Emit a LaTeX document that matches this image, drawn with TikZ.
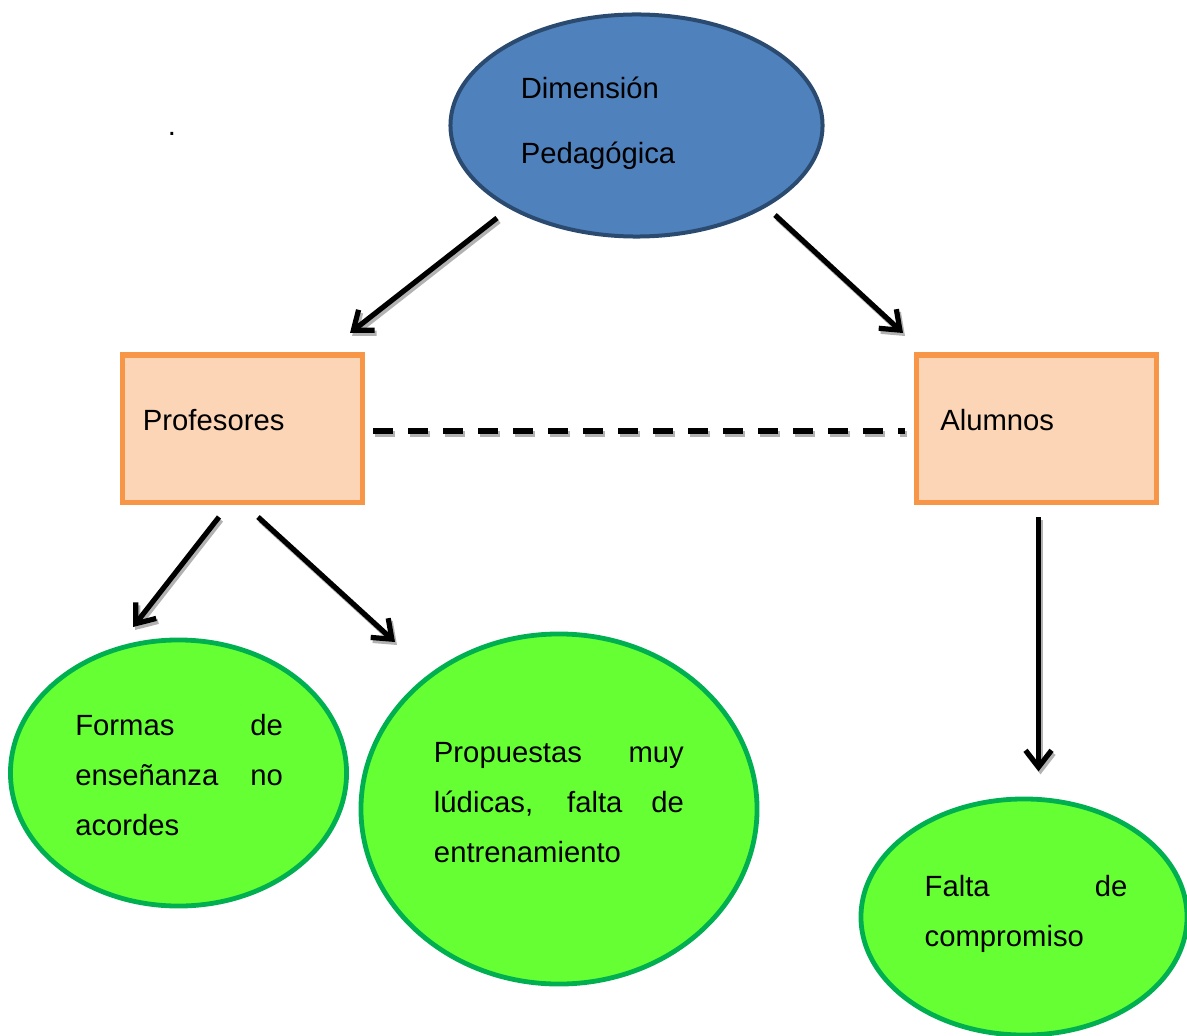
\documentclass[tikz,border=0pt]{standalone}
\usepackage{fontspec}
\setmainfont{Liberation Sans}
\usetikzlibrary{shapes.geometric,arrows.meta}

\definecolor{azulrelleno}{HTML}{4F81BD}
\definecolor{azulborde}{HTML}{2B4A70}
\definecolor{naranjarelleno}{HTML}{FBD5B5}
\definecolor{naranjaborde}{HTML}{F79646}
\definecolor{verderelleno}{HTML}{66FF33}
\definecolor{verdeborde}{HTML}{00B050}

\tikzset{
  texto/.style={inner sep=0pt,anchor=north west,align=left,font=\fontsize{20.8}{35.6}\selectfont},
  caja/.style={draw=naranjaborde,fill=naranjarelleno,line width=0.13cm,minimum width=6cm,minimum height=3.6875cm},
  elipseverde/.style={ellipse,draw=verdeborde,fill=verderelleno,line width=0.12cm,inner sep=0pt},
  flecha/.style={line width=0.13cm,-{Straight Barb[length=0.42cm,width=0.65cm]}},
  sombra/.style={draw=gray!60,transform canvas={shift={(2,3)}}},
  raya/.style={line width=0.15cm,dash pattern=on 0.5cm off 0.375cm}
}

\begin{document}
\begin{tikzpicture}[x=0.025cm,y=-0.025cm]
  \useasboundingbox (0,0) rectangle (1187,1036);
  % nodos
  \node[ellipse,draw=azulborde,fill=azulrelleno,line width=0.1cm,inner sep=0pt,
        minimum width=9.3cm,minimum height=5.55cm] (dim) at (636.5,125.5) {};
  \node[caja] (prof) at (242.5,428.75) {};
  \node[caja] (alum) at (1036.5,428.75) {};
  \node[elipseverde,minimum width=8.4cm,minimum height=6.65cm] (formas) at (178.5,773) {};
  \node[elipseverde,minimum width=9.9cm,minimum height=8.75cm] (prop) at (559,809) {};
  \node[elipseverde,minimum width=8.15cm,minimum height=5.9cm] (falta) at (1024,917) {};
  % textos
  \node[texto,font=\fontsize{20.8}{46.5}\selectfont] (dimtxt) at (520.5,76.2) {Dimensión\\Pedagógica};
  \node[texto] (proftxt) at (142.7,409.2) {Profesores};
  \node[texto] (alumtxt) at (940,409.2) {Alumnos};
  \node[texto] (formastxt) at (75,713.7) {\makebox[5.19cm][s]{Formas de}\\\makebox[5.19cm][s]{enseñanza no}\\acordes};
  \node[texto] (proptxt) at (433.7,742) {\makebox[6.245cm][s]{Propuestas muy}\\\makebox[6.245cm][s]{lúdicas, falta de}\\entrenamiento};
  \node[texto] (faltatxt) at (924.4,874.7) {\makebox[5.065cm][s]{Falta de}\\compromiso};
  \node[inner sep=0pt,anchor=base west,font=\fontsize{20.8}{35.6}\selectfont] (punto) at (167.5,135.5) {.};
  % extremos de las flechas
  \coordinate (d1) at (497,218);
  \coordinate (p1) at (350,333);
  \coordinate (d2) at (775,215);
  \coordinate (a1) at (903,333);
  \coordinate (p2) at (219,517);
  \coordinate (f1) at (133,627);
  \coordinate (p3) at (258,517);
  \coordinate (f2) at (395,642);
  % flechas con sombra
  \foreach \a/\b in {d1/p1,d2/a1,p2/f1,p3/f2} {
    \draw[flecha,sombra] (\a) -- (\b);
    \draw[flecha] (\a) -- (\b);
  }
  \draw[flecha,sombra,shorten <=0.3cm,shorten >=0.63cm] ([xshift=0.05cm]alum.south) -- ([xshift=0.05cm]alum.south |- falta.north);
  \draw[flecha,shorten <=0.3cm,shorten >=0.63cm] ([xshift=0.05cm]alum.south) -- ([xshift=0.05cm]alum.south |- falta.north);
  % linea discontinua
  \draw[raya,sombra,shorten <=0.2cm,shorten >=0.22cm] ([yshift=-0.05cm]prof.east) -- ([yshift=-0.05cm]alum.west);
  \draw[raya,shorten <=0.2cm,shorten >=0.22cm] ([yshift=-0.05cm]prof.east) -- ([yshift=-0.05cm]alum.west);
\end{tikzpicture}
\end{document}
